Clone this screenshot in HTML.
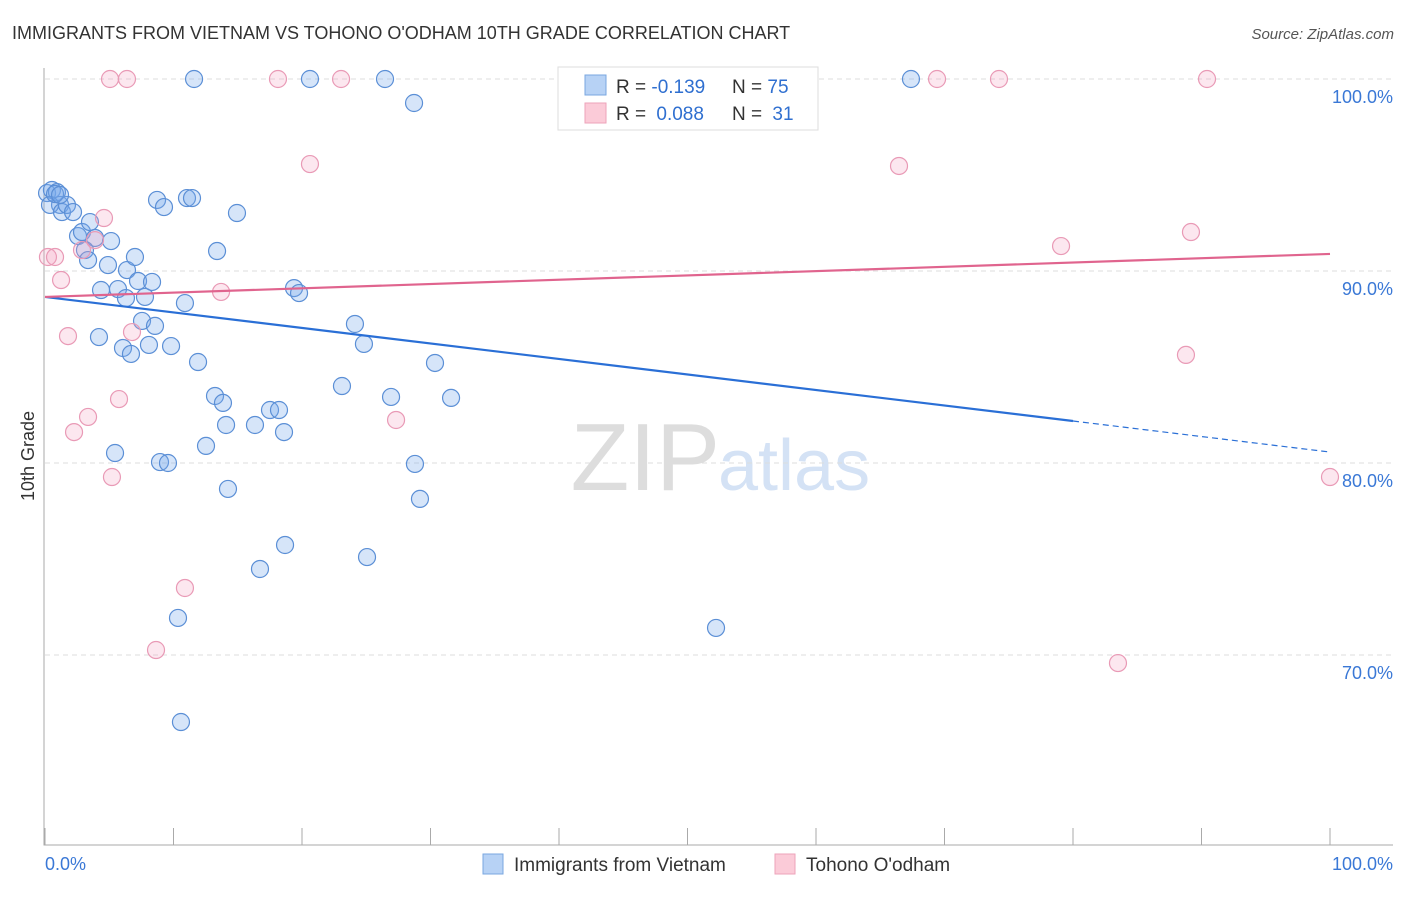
<!DOCTYPE html>
<html><head><meta charset="utf-8"><style>
body{margin:0;background:#fff;font-family:"Liberation Sans",sans-serif}
svg text{font-family:"Liberation Sans",sans-serif}
</style></head><body>
<svg id="c" width="1406" height="892">
<text x="12" y="39" font-size="18" fill="#333">IMMIGRANTS FROM VIETNAM VS TOHONO O'ODHAM 10TH GRADE CORRELATION CHART</text>
<text x="1394" y="39" font-size="15" fill="#555" text-anchor="end" font-style="italic">Source: ZipAtlas.com</text>
<text x="720" y="490" font-size="96" fill="#ddd" text-anchor="end" font-family="Liberation Serif">ZIP</text>
<text x="718" y="490" font-size="72" fill="#d4e2f5">atlas</text>
<text transform="translate(34,456) rotate(-90)" font-size="18" fill="#333" text-anchor="middle">10th Grade</text>
<g id="grid"></g><g id="marks"></g>
<g>
<rect x="558" y="67" width="260" height="63" fill="#fff" stroke="#ddd"/>
<rect x="585" y="75" width="21" height="20" fill="#b7d2f5" stroke="#7aa7e0"/>
<rect x="585" y="103" width="21" height="20" fill="#fbcbd8" stroke="#eea3ba"/>
<text x="616" y="93" font-size="19" fill="#333">R = <tspan fill="#2f6fd0">-0.139</tspan></text>
<text x="732" y="93" font-size="19" fill="#333">N = <tspan fill="#2f6fd0">75</tspan></text>
<text x="616" y="120" font-size="19" fill="#333">R = <tspan fill="#2f6fd0" dx="5">0.088</tspan></text>
<text x="732" y="120" font-size="19" fill="#333">N = <tspan fill="#2f6fd0" dx="5">31</tspan></text>
</g>
<g>
<rect x="483" y="854" width="20" height="20" fill="#b7d2f5" stroke="#7aa7e0"/>
<text x="514" y="871" font-size="19" fill="#333">Immigrants from Vietnam</text>
<rect x="775" y="854" width="20" height="20" fill="#fbcbd8" stroke="#eea3ba"/>
<text x="806" y="871" font-size="19" fill="#333">Tohono O'odham</text>
</g>
<text x="45" y="870" font-size="18" fill="#3a78d6">0.0%</text>
<text x="1393" y="870" font-size="18" fill="#3a78d6" text-anchor="end">100.0%</text>
</svg>
<script>
const blueX=[0.16,0.54,0.93,1.17,0.39,1.32,1.71,2.18,0.78,2.57,2.88,3.5,3.89,5.14,3.11,3.35,4.9,6.38,4.36,5.68,6.3,7.78,7.24,8.33,7.0,8.72,9.26,11.05,11.44,14.94,13.39,10.89,7.55,8.56,4.2,6.07,6.69,8.09,9.81,11.91,19.38,19.77,24.12,24.82,30.35,23.11,26.93,31.6,13.23,13.85,14.09,16.34,17.51,18.21,18.6,12.53,5.45,8.95,9.57,14.24,28.79,29.18,18.68,16.73,25.06,10.35,10.58,52.22,11.6,20.62,26.46,28.72,67.39,43.11,1.17];
const blueY=[94.06,94.22,94.11,93.44,93.44,93.07,93.44,93.07,94.01,91.82,92.03,92.55,91.72,91.56,91.09,90.57,90.31,90.05,89.01,89.06,88.59,88.65,89.48,89.43,90.73,93.7,93.33,93.8,93.8,93.02,91.04,88.33,87.4,87.14,86.56,85.99,85.68,86.15,86.09,85.26,89.11,88.85,87.24,86.2,85.21,84.01,83.44,83.39,83.49,83.13,81.98,81.98,82.76,82.76,81.61,80.89,80.52,80.05,80.0,78.65,79.95,78.13,75.73,74.48,75.1,71.93,66.51,71.41,100,100,100,98.75,100,100,93.96];
const pinkX=[5.06,6.38,18.13,23.04,47.63,69.42,74.24,90.43,20.62,66.46,4.59,3.89,2.88,0.23,0.78,79.07,89.18,1.25,13.7,1.79,6.77,88.79,5.76,3.35,2.26,27.32,5.21,100,10.89,8.64,83.5];
const pinkY=[100,100,100,100,100,100,100,100,95.57,95.47,92.76,91.61,91.09,90.73,90.73,91.3,92.03,89.53,88.91,86.61,86.82,85.63,83.33,82.4,81.61,82.24,79.27,79.27,73.49,70.26,69.58];
const yTicks=[100,90,80,70];
const xTicks=[0,10,20,30,40,50,60,70,80,90,100];
const blueTrend=[88.65,80.57];
const pinkTrend=[88.65,90.89];
const blueSolidEnd=80;
const NS="http://www.w3.org/2000/svg";
const sx=v=>45+v*12.85, sy=v=>79+(100-v)*19.2;
function mk(t,a,p){const e=document.createElementNS(NS,t);for(const k in a)e.setAttribute(k,a[k]);p.appendChild(e);return e;}
const g=document.getElementById('grid'),m=document.getElementById('marks');
yTicks.forEach(t=>{
 const l=mk('line',{x1:45,x2:1393,y1:sy(t),y2:sy(t),stroke:'#ddd','stroke-dasharray':'5,4'},g);
 
 
 const tx=mk('text',{x:1393,y:sy(t)+24,'font-size':18,fill:'#3a78d6','text-anchor':'end'},g);
 tx.textContent=t.toFixed(1)+'%';
 
 
});
const ax=mk('path',{d:'M44 68V845H1393',fill:'none',stroke:'#aaa'},g);


xTicks.forEach(t=>{
 const l=mk('line',{x1:sx(t),x2:sx(t),y1:828,y2:845,stroke:'#aaa'},g);
 
 
});
function pts(X,Y,fill,stroke,name){X.forEach((x,i)=>{
 const c=mk('circle',{cx:sx(x),cy:sy(Y[i]),r:8.5,fill:fill,stroke:stroke,'stroke-width':1.2},m);
 
 
});}
pts(blueX,blueY,'rgba(120,170,235,0.3)','#5b8fd6','vietnam-point');
pts(pinkX,pinkY,'rgba(245,160,190,0.25)','#e99ab6','tohono-point');
const by=x=>blueTrend[0]+(blueTrend[1]-blueTrend[0])*x/100;
let l1=mk('line',{x1:sx(0),y1:sy(by(0)),x2:sx(blueSolidEnd),y2:sy(by(blueSolidEnd)),stroke:'#2a6fd6','stroke-width':2.2},m);


let l2=mk('line',{x1:sx(blueSolidEnd),y1:sy(by(blueSolidEnd)),x2:sx(100),y2:sy(by(100)),stroke:'#2a6fd6','stroke-width':1.2,'stroke-dasharray':'6,4'},m);


let l3=mk('line',{x1:sx(0),y1:sy(pinkTrend[0]),x2:sx(100),y2:sy(pinkTrend[1]),stroke:'#e0648e','stroke-width':2.2},m);


</script>
</body></html>
